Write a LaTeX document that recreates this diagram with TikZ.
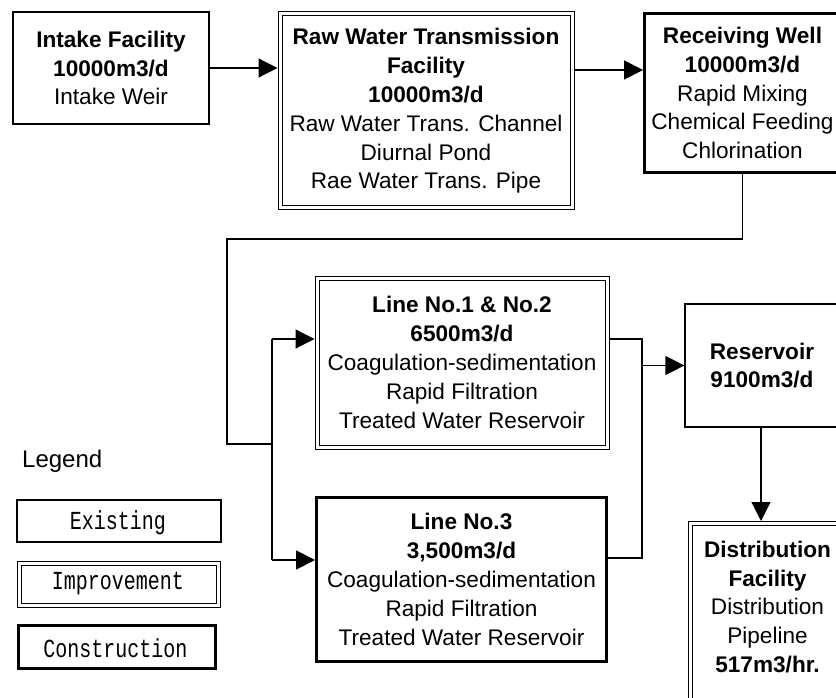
\documentclass[tikz,border=0pt]{standalone}
\usepackage{fontspec}
\setmainfont{Liberation Sans}
\newfontfamily\legfont{Liberation Mono}
\usetikzlibrary{arrows.meta,calc}
\begin{document}
\begin{tikzpicture}[x=1pt,y=-1pt,
  txt/.style={font=\fontsize{22.6}{28.8}\selectfont, align=center, inner sep=0pt},
  exist/.style={draw, line width=1.2pt, inner sep=0pt, outer sep=0.6pt, txt},
  improve/.style={draw, line width=1pt, double, double distance=3pt, inner sep=0pt, outer sep=2.5pt, txt},
  construct/.style={draw, line width=2.8pt, inner sep=0pt, outer sep=1.4pt, txt},
  conn/.style={line width=1.2pt},
  arr/.style={conn, -{Triangle[length=19pt,width=19pt]}},
  legtext/.style={font=\legfont\fontsize{20}{24}\selectfont}
]
\path[use as bounding box, clip] (0,0) rectangle (836,698);
\fill[white] (0,0) rectangle (836,698);

% main boxes
\node[exist, minimum width=196, minimum height=112] (intake) at (111,68)
  {\textbf{Intake Facility}\\\textbf{10000m3/d}\\Intake Weir};
\node[improve, minimum width=292, minimum height=194] (raw) at (426,111)
  {\textbf{Raw Water Transmission}\\\textbf{Facility}\\\textbf{10000m3/d}\\Raw Water Trans. Channel\\Diurnal Pond\\Rae Water Trans. Pipe};
\node[construct, minimum width=196, minimum height=159] (recv) at (742.5,93)
  {\textbf{Receiving Well}\\\textbf{10000m3/d}\\Rapid Mixing\\Chemical Feeding\\Chlorination};
\node[improve, minimum width=290, minimum height=169] (line12) at (462,362.5)
  {\textbf{Line No.1 \& No.2}\\\textbf{6500m3/d}\\Coagulation-sedimentation\\Rapid Filtration\\Treated Water Reservoir};
\node[construct, minimum width=290, minimum height=164] (line3) at (461.5,579.5)
  {\textbf{Line No.3}\\\textbf{3,500m3/d}\\Coagulation-sedimentation\\Rapid Filtration\\Treated Water Reservoir};
\node[exist, minimum width=154, minimum height=123] (res) at (762,365.5)
  {\textbf{Reservoir}\\\textbf{9100m3/d}};
\node[improve, minimum width=155, minimum height=200, anchor=north] (dist) at (767.5,521) {};
\node[txt] (distt) at (767.5,607)
  {\textbf{Distribution}\\\textbf{Facility}\\Distribution\\Pipeline\\\textbf{517m3/hr.}};

% legend
\node[txt, font=\fontsize{24}{28}\selectfont, anchor=west] (leg) at (22,461) {Legend};
\node[exist, minimum width=204, minimum height=42] (lexist) at (119,521) {};
\node[legtext] (lexistt) at (118,523) {\scalebox{1}[1.3]{Existing}};
\node[improve, minimum width=199, minimum height=42] (limp) at (118.5,584) {};
\node[legtext] (limpt) at (118,584) {\scalebox{1}[1.3]{Improvement}};
\node[construct, minimum width=197, minimum height=43] (lcon) at (117,647) {};
\node[legtext] (lcont) at (115.5,648) {\scalebox{1}[1.3]{Construction}};

% connectors
\coordinate (r1) at (0,70);
\draw[arr] (intake.east) -- (intake.east -| raw.west);
\draw[arr] (raw.east |- r1) -- (recv.west |- r1);

\coordinate (c1) at (227,239);
\coordinate (c2) at (227,444);
\coordinate (b1) at (272,339);
\coordinate (b2) at (272,560);
\draw[conn] (recv.south) |- (c1) -- (c2) -- (c2 -| b1);
\draw[conn] (b1) -- (b2);
\draw[arr] (b1) -- (b1 -| line12.west);
\draw[arr] (b2) -- (b2 -| line3.west);

\coordinate (m1) at (642,339);
\coordinate (m2) at (642,558);
\draw[conn] (m1 -| line12.east) -- (m1) -- (m2) -- (m2 -| line3.east);
\draw[arr] (m1 |- res.west) -- (res.west);
\draw[arr] (res.south -| 761,0) -- (dist.north -| 761,0);
\end{tikzpicture}
\end{document}
